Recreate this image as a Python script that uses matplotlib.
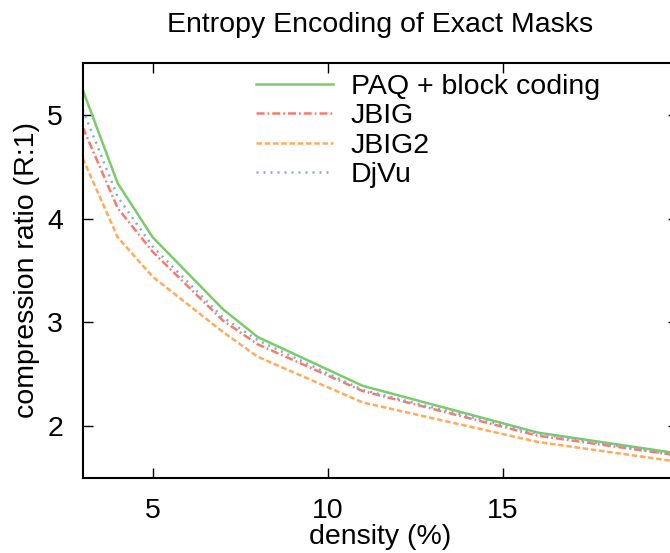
import numpy as np
import matplotlib
matplotlib.use("Agg")
import matplotlib.pyplot as plt

plt.rcParams['font.family'] = ['Liberation Sans', 'DejaVu Sans']

# densidades (%) y ratios de compresion
density = [3, 4, 5, 7, 8, 11, 16, 20]
paq = [5.24, 4.34, 3.82, 3.13, 2.86, 2.39, 1.94, 1.74]
jbig = [4.88, 4.10, 3.68, 3.02, 2.79, 2.34, 1.91, 1.72]
jbig2 = [4.58, 3.82, 3.44, 2.91, 2.67, 2.23, 1.85, 1.66]
djvu = [5.05, 4.21, 3.73, 3.05, 2.83, 2.35, 1.93, 1.72]

labels = ["PAQ + block coding", "JBIG", "JBIG2", "DjVu"]
x_ticks = [5, 10, 15]
y_ticks = [2, 3, 4, 5]

fs = 20.5

fig = plt.figure(figsize=(6.7, 5.53), dpi=100)
ax = fig.add_axes([0.1234, 0.1351, 0.888, 0.7515])

lw = 1.8
ax.plot(density, paq, color='#7acb6a', lw=lw, label=labels[0])
ax.plot(density, jbig, color='#fa7a6a', lw=lw, dashes=(3.2, 1.2, 0.7, 1.2), label=labels[1])
ax.plot(density, jbig2, color='#ffab58', lw=lw, dashes=(2.2, 1.1), label=labels[2])
ax.plot(density, djvu, color='#7eaddb', lw=lw, dashes=(0.8, 2.0), label=labels[3])

ax.set_xlim(3, 20)
ax.set_ylim(1.5, 5.5)
ax.set_xticks(x_ticks)
ax.set_yticks(y_ticks)
ax.tick_params(direction='in', length=7, width=1, top=True, right=True,
               labelsize=fs, pad=14)
for s in ax.spines.values():
    s.set_linewidth(1.5)

ax.set_xlabel("density (%)", fontsize=fs, labelpad=0)
ax.set_ylabel("compression ratio (R:1)", fontsize=fs, labelpad=5)
ax.set_title("Entropy Encoding of Exact Masks", fontsize=fs, pad=22)

ax.legend(loc='upper left', bbox_to_anchor=(0.253, 1.028), frameon=False,
          fontsize=fs, handlelength=2.7, handletextpad=0.62,
          labelspacing=0.12, borderpad=0.3)

fig.savefig("out.png", dpi=100)
